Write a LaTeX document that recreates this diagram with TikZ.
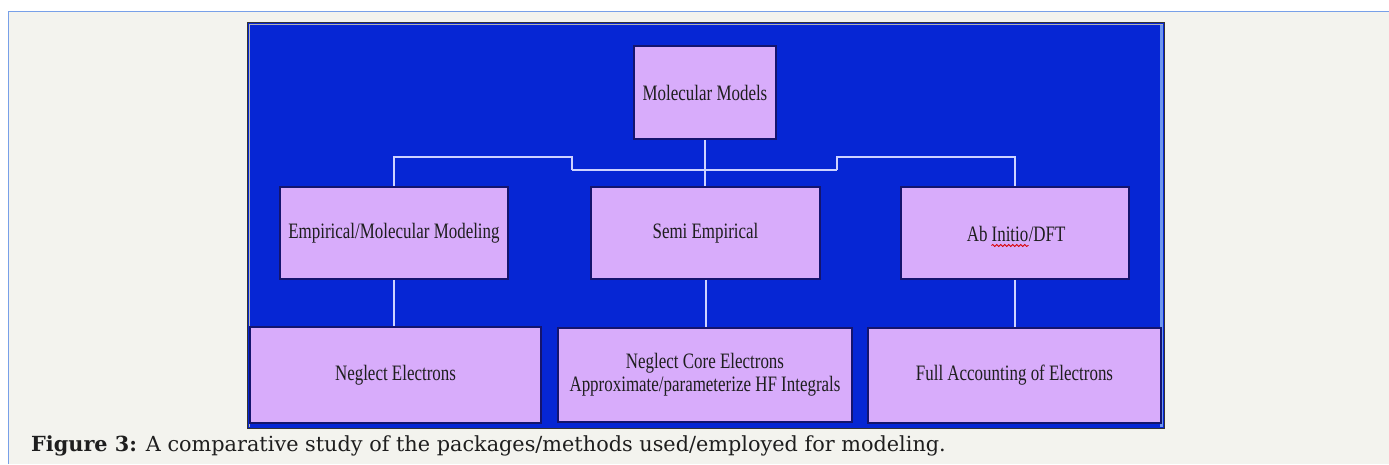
\documentclass[tikz,border=0pt]{standalone}
\usepackage{fontspec}
\newfontfamily\boxfont[FakeStretch=0.77]{Liberation Serif}
\newfontfamily\capfont{DejaVu Serif}
\usetikzlibrary{decorations.pathmorphing}
\definecolor{pagebg}{RGB}{243,243,238}
\definecolor{framecol}{RGB}{120,160,232}
\definecolor{panelblue}{RGB}{6,38,212}
\definecolor{boxfill}{RGB}{216,172,251}
\definecolor{boxline}{RGB}{20,20,110}
\definecolor{linkcol}{RGB}{205,210,255}
\definecolor{inkcol}{RGB}{30,30,30}
\definecolor{edgeblue}{RGB}{110,150,240}
\definecolor{captink}{RGB}{30,30,30}

\begin{document}
\begin{tikzpicture}[x=1pt,y=-1pt,
  mbox/.style={draw=boxline, line width=1.5pt, fill=boxfill, text=inkcol,
    font=\boxfont\fontsize{22}{23}\selectfont, align=center, inner sep=0pt},
  boxtext/.style={text=inkcol, font=\boxfont\fontsize{22}{23}\selectfont, inner sep=0pt},
  link/.style={draw=linkcol, line width=2pt},
  squiggle/.style={draw=red!85!black, line width=0.8pt, decorate,
    decoration={snake, amplitude=1pt, segment length=4pt}}
  ]
\useasboundingbox (0,0) rectangle (1389,464);

% page background and frame
\fill[white] (0,0) rectangle (1389,464);
\fill[pagebg] (8.5,11.5) rectangle (1389,464);
\draw[framecol, line width=1pt] (8.5,464) -- (8.5,11.5) -- (1389,11.5);

% blue panel
\draw[black!80, line width=1pt, fill=panelblue] (247.5,22.5) rectangle (1164,428);
\draw[gray!60, line width=1pt] (249,427) -- (249,24) -- (1163,24);
\draw[edgeblue, line width=2.5pt] (1161.5,25) -- (1161.5,427);

% top level
\node[mbox, minimum width=142pt, minimum height=93pt] (mm) at (705,92.5) {Molecular Models};

% second level
\node[mbox, minimum width=228pt, minimum height=92pt] (emp) at (394,233) {Empirical/Molecular Modeling};
\node[mbox, minimum width=229pt, minimum height=92pt] (semi) at (705.5,233) {Semi Empirical};
\node[mbox, minimum width=228pt, minimum height=92pt] (abi) at (1015,233) {};
\node[boxtext, anchor=base] (ai2) at (1010,241.5) {Initio};
\node[boxtext, anchor=base east] (ai1) at (ai2.base west) {Ab\kern0.17em};
\node[boxtext, anchor=base west] (ai3) at (ai2.base east) {/DFT};
\draw[squiggle] ([yshift=-4pt]ai2.base west) -- ([yshift=-4pt]ai2.base east);

% third level
\node[mbox, minimum width=291pt, minimum height=96pt] (neg) at (395.5,375) {Neglect Electrons};
\node[mbox, minimum width=294pt, minimum height=94pt] (core) at (705,375)
  {Neglect Core Electrons\\Approximate/parameterize HF Integrals};
\node[mbox, minimum width=293pt, minimum height=95pt] (full) at (1014.5,375.5) {Full Accounting of Electrons};

% connectors
\coordinate (jL) at (572,170);
\coordinate (jR) at (837,170);
\draw[link] (mm.south) -- (mm.south |- jL) coordinate (hub);
\draw[link] (jL) -- (jR);
\draw[link] (jL) -- ++(0,-13) -| (emp.north);
\draw[link] (jR) -- ++(0,-13) -| (abi.north);
\draw[link] (hub) -- (hub |- semi.north);
\draw[link] (emp.south) -- (emp.south |- neg.north);
\draw[link] (semi.south) -- (semi.south |- core.north);
\draw[link] (abi.south) -- (abi.south |- full.north);

% caption
\node[anchor=base west, inner sep=0pt, text=captink, font=\capfont\fontsize{20.8}{24}\selectfont] (cap) at (31,451)
  {\textbf{Figure 3:} A comparative study of the packages/methods used/employed for modeling.};
\end{tikzpicture}
\end{document}
